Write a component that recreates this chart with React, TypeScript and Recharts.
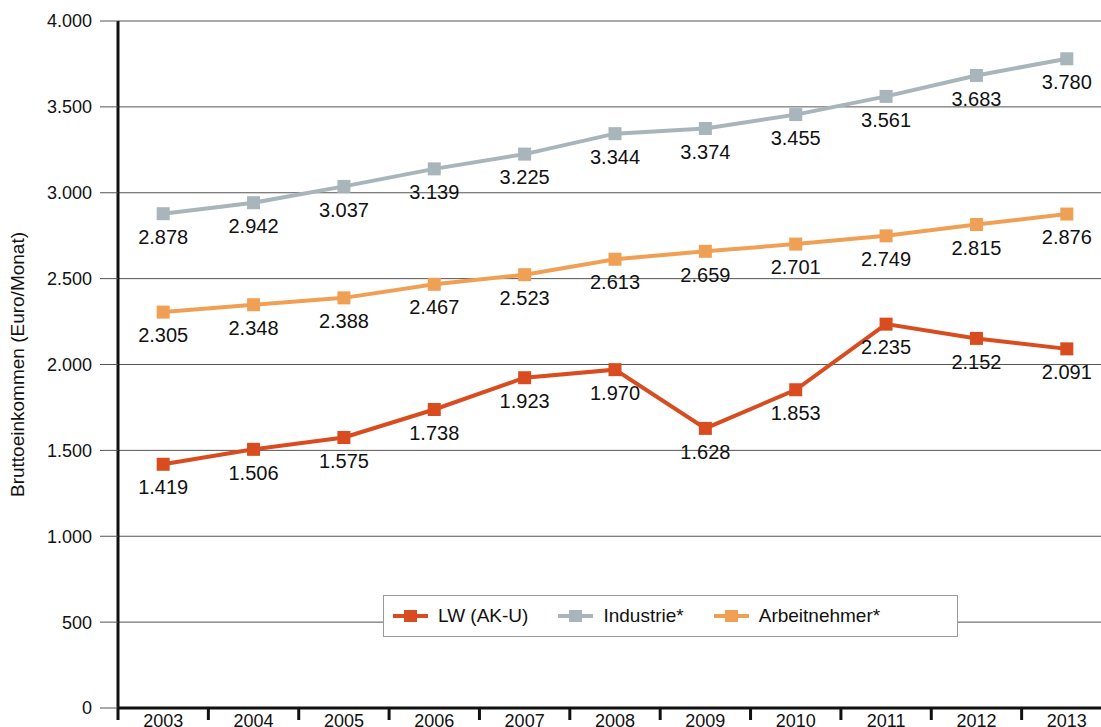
import React from "react";
import { LineChart, Line, XAxis, YAxis, CartesianGrid, LabelList } from "recharts";

const years = ["2003", "2004", "2005", "2006", "2007", "2008", "2009", "2010", "2011", "2012", "2013"];
const lwValues = [1419, 1506, 1575, 1738, 1923, 1970, 1628, 1853, 2235, 2152, 2091];
const industrieValues = [2878, 2942, 3037, 3139, 3225, 3344, 3374, 3455, 3561, 3683, 3780];
const arbeitnehmerValues = [2305, 2348, 2388, 2467, 2523, 2613, 2659, 2701, 2749, 2815, 2876];
const yTicks = [0, 500, 1000, 1500, 2000, 2500, 3000, 3500, 4000];

const series = [
    { key: "lw", name: "LW (AK-U)", color: "#d84c1f" },
    { key: "industrie", name: "Industrie*", color: "#a8b5bb" },
    { key: "arbeitnehmer", name: "Arbeitnehmer*", color: "#f0a055" },
];

const data = years.map((year, i) => ({
    year,
    lw: lwValues[i],
    industrie: industrieValues[i],
    arbeitnehmer: arbeitnehmerValues[i],
}));

const FONT = "'Liberation Sans', Arial, Helvetica, sans-serif";
const CHART_W = 1112;
const CHART_H = 760;
const AXIS_W = 118;
const BAND = (CHART_W - AXIS_W) / years.length;

const fmt = (v: number) => v.toLocaleString("de-DE");

function squareDot(color: string) {
    return (props: any) => {
        const { cx, cy, index } = props;
        if (cx == null || cy == null) return <g key={index} />;
        return <rect key={index} x={cx - 6.5} y={cy - 6.5} width={13} height={13} fill={color} />;
    };
}

// tick marks sit on the band edges, labels in the middle
function YearTick(props: any) {
    const { x, y, payload } = props;
    return (
        <g>
            <line x1={x - BAND / 2} y1={y} x2={x - BAND / 2} y2={y + 12} stroke="#111" strokeWidth={3} />
            <text x={x} y={y + 19} textAnchor="middle" fontSize={18} fill="#111" fontFamily={FONT}>
                {payload.value}
            </text>
        </g>
    );
}

function LegendBox() {
    return (
        <div
            style={{
                position: "absolute",
                left: 383,
                top: 595,
                display: "flex",
                alignItems: "center",
                width: 575,
                height: 42,
                background: "#fff",
                border: "1px solid #999",
                fontFamily: FONT,
                fontSize: 19,
                color: "#111",
                boxSizing: "border-box",
                paddingLeft: 9,
            }}
        >
            {series.map((s) => (
                <div key={s.key} style={{ display: "flex", alignItems: "center", marginRight: 30 }}>
                    <svg width={35} height={14} style={{ marginRight: 10 }}>
                        <line x1={0} y1={7} x2={35} y2={7} stroke={s.color} strokeWidth={4} />
                        <rect x={11} y={1} width={13} height={12} fill={s.color} />
                    </svg>
                    <span>{s.name}</span>
                </div>
            ))}
        </div>
    );
}

export default function App() {
    return (
        <div style={{ position: "fixed", left: 0, top: 0, width: 1101, height: 727, overflow: "hidden", background: "#fff" }}>
            <LineChart width={CHART_W} height={CHART_H} data={data} margin={{ top: 21, right: 0, bottom: 0, left: 0 }}>
                <CartesianGrid vertical={false} stroke="#555" strokeWidth={1} />
                <XAxis
                    dataKey="year"
                    height={CHART_H - 708}
                    padding={{ left: BAND / 2, right: BAND / 2 }}
                    axisLine={{ stroke: "#111", strokeWidth: 3 }}
                    tickLine={false}
                    tickSize={0}
                    tickMargin={0}
                    tick={<YearTick />}
                    interval={0}
                />
                <YAxis
                    width={AXIS_W}
                    domain={[0, 4000]}
                    ticks={yTicks}
                    tickFormatter={fmt}
                    axisLine={{ stroke: "#111", strokeWidth: 3 }}
                    tickLine={{ stroke: "#555", strokeWidth: 1 }}
                    tickSize={18}
                    tickMargin={8}
                    tick={{ fontSize: 18, fill: "#111", fontFamily: FONT }}
                    label={{
                        value: "Bruttoeinkommen (Euro/Monat)",
                        angle: -90,
                        position: "insideLeft",
                        offset: 17,
                        style: { fontSize: 19, fill: "#111", fontFamily: FONT, textAnchor: "middle" },
                    }}
                />
                {series.map((s) => (
                    <Line
                        key={s.key}
                        dataKey={s.key}
                        name={s.name}
                        stroke={s.color}
                        strokeWidth={4}
                        dot={squareDot(s.color)}
                        activeDot={false}
                        isAnimationActive={false}
                    >
                        <LabelList
                            dataKey={s.key}
                            position="bottom"
                            offset={16}
                            formatter={(v: any) => fmt(Number(v))}
                            style={{ fontSize: 20, fill: "#111", fontFamily: FONT }}
                        />
                    </Line>
                ))}
            </LineChart>
            <LegendBox />
        </div>
    );
}
